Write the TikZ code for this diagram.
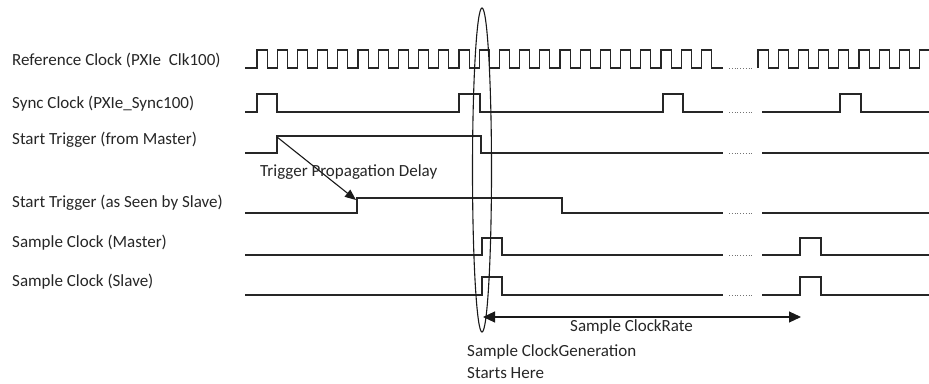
\documentclass[tikz,border=0pt]{standalone}
\usepackage{fontspec}
\setmainfont{Carlito}
\usetikzlibrary{arrows.meta,shapes.geometric}
\begin{document}
\begin{tikzpicture}[x=1pt,y=-1pt,
  wave/.style={line width=1.1pt, draw=black!85, line join=miter},
  gapline/.style={dotted, line width=0.8pt, draw=black!55},
  lbl/.style={anchor=west, inner sep=0pt, text=black!85, font=\fontsize{17}{19}\selectfont},
  arr/.style={line width=1.1pt, draw=black!90}]
\useasboundingbox (0,0) rectangle (929,383);
\clip (0,0) rectangle (929,383);
% labels
\node[lbl] (l1) at (12,60) {Reference Clock (PXIe\ \ Clk100)};
\node[lbl] (l2) at (12,104) {Sync Clock (PXIe\_Sync100)};
\node[lbl] (l3) at (12,140) {Start Trigger (from Master)};
\node[lbl] (l4) at (12,203) {Start Trigger (as Seen by Slave)};
\node[lbl] (l5) at (12,243) {Sample Clock (Master)};
\node[lbl] (l6) at (12,282) {Sample Clock (Slave)};
% reference clock
\draw[wave] (245,68) -- (257,68)
  \foreach \k in {0,...,22} { -- ++(0,-18) -- ++(10.1,0) -- ++(0,18) -- ++(10.1,0) } -- (723,68);
\draw[wave] (758,68)
  \foreach \k in {0,...,8} { -- ++(0,-18) -- ++(10.1,0) -- ++(0,18) -- ++(10.1,0) };
% sync clock
\draw[wave] (245,112) -- (257,112) -- (257,94) -- (277,94) -- (277,112) -- (459,112) -- (459,94) -- (480,94) -- (480,112)
  -- (663,112) -- (663,94) -- (683,94) -- (683,112) -- (723,112);
\draw[wave] (762,112) -- (840,112) -- (840,94) -- (861,94) -- (861,112) -- (929,112);
% start trigger master
\draw[wave] (245,153) -- (277,153) -- (277,136) -- (481,136) -- (481,153) -- (723,153);
\draw[wave] (762,153) -- (929,153);
% start trigger slave
\draw[wave] (245,213) -- (357,213) -- (357,198) -- (562,198) -- (562,213) -- (723,213);
\draw[wave] (762,213) -- (929,213);
% sample clock master
\draw[wave] (245,255) -- (482,255) -- (482,238) -- (502,238) -- (502,255) -- (723,255);
\draw[wave] (762,255) -- (800,255) -- (800,238) -- (821,238) -- (821,255) -- (929,255);
% sample clock slave
\draw[wave] (245,295) -- (482,295) -- (482,277) -- (502,277) -- (502,295) -- (723,295);
\draw[wave] (762,295) -- (800,295) -- (800,277) -- (821,277) -- (821,295) -- (929,295);
% gaps
\foreach \y in {68,112,153,213,255,295} { \draw[gapline] (729,\y) -- (753,\y); }
% ellipse
\node[draw=black!90, line width=1.1pt, ellipse, minimum width=19pt, minimum height=324pt, inner sep=0pt] (ell) at (482,170) {};
% trigger propagation delay
\coordinate (trgA) at (277,137);
\coordinate (trgB) at (356,200);
\draw[arr, -{Triangle[length=11pt,width=9pt]}] (trgA) -- (trgB);
\node[lbl] (tpd) at (260,172) {Trigger Propagation Delay};
% sample clock rate
\coordinate (rateL) at (483,317);
\coordinate (rateR) at (801,317);
\draw[arr, {Triangle[length=12pt,width=11pt]}-{Triangle[length=12pt,width=11pt]}] (rateL) -- (rateR);
\node[lbl] (rate) at (570,327) {Sample ClockRate};
\node[lbl] (gen1) at (467,352) {Sample ClockGeneration};
\node[lbl] (gen2) at (467,373) {Starts Here};
\end{tikzpicture}
\end{document}
